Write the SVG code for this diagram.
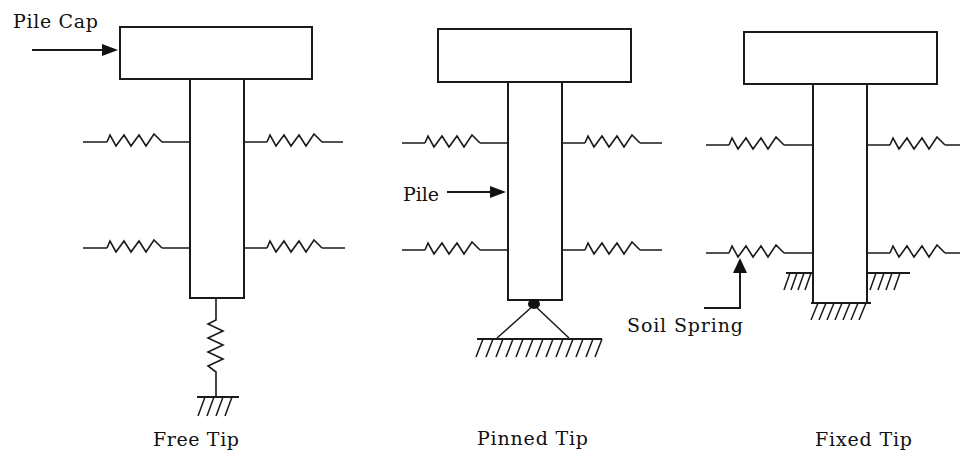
<svg xmlns="http://www.w3.org/2000/svg" xmlns:xlink="http://www.w3.org/1999/xlink" width="960" height="455" viewBox="0 0 960 455">
<style>
.s{fill:none;stroke:#1a1a1a;stroke-width:2}
.sp{fill:none;stroke:#1a1a1a;stroke-width:1.6;stroke-linejoin:miter}
.h{fill:none;stroke:#1a1a1a;stroke-width:1.5}
.box{fill:#fff;stroke:#1a1a1a;stroke-width:2}
.ah{fill:#111}
.t{font-family:"DejaVu Serif","Liberation Serif",serif;font-size:19px;fill:#111}
</style>
<defs>
<path id="zig" class="sp" d="M0,0 L3,-7 L9,4 L17,-7 L24,4 L32,-7 L39,4 L47,-8 L55,0"/>
</defs>
<rect width="960" height="455" fill="#fff"/>

<g id="free-tip">
<rect class="box" x="120" y="27" width="192" height="52"/>
<rect class="box" x="190" y="79" width="54" height="219"/>
<path class="sp" d="M83,142 H107 M162,142 H190 M83,248 H107 M162,248 H190 M244,142 H267 M322,142 H343 M244,248 H267 M322,248 H345"/>
<use xlink:href="#zig" x="107" y="142"/>
<use xlink:href="#zig" x="107" y="248"/>
<use xlink:href="#zig" x="267" y="142"/>
<use xlink:href="#zig" x="267" y="248"/>
<path class="sp" d="M216,298 V320 L208,324 L223,331 L208,338 L223,345 L208,352 L223,359 L208,366 L216,372 V397"/>
<path class="s" d="M197,397 H239"/>
<path class="h" d="M205,397 l-7,19 M214,397 l-7,19 M223,397 l-7,19 M232,397 l-7,19"/>
<text class="t" x="153" y="446" textLength="86">Free Tip</text>
</g>

<g id="pinned-tip">
<rect class="box" x="438" y="29" width="193" height="53"/>
<rect class="box" x="508" y="82" width="54" height="218"/>
<path class="sp" d="M402,143 H425 M480,143 H508 M402,250 H425 M480,250 H508 M562,143 H585 M640,143 H662 M562,250 H585 M640,250 H662"/>
<use xlink:href="#zig" x="425" y="143"/>
<use xlink:href="#zig" x="425" y="250"/>
<use xlink:href="#zig" x="585" y="143"/>
<use xlink:href="#zig" x="585" y="250"/>
<path class="h" d="M534,305 L497,338 M534,305 L569,338"/>
<ellipse cx="534" cy="304" rx="6" ry="5" fill="#111"/>
<path class="s" d="M477,339 H602"/>
<path class="h" d="M483,339 l-7,18 M493,339 l-7,18 M503,339 l-7,18 M513,339 l-7,18 M523,339 l-7,18 M533,339 l-7,18 M543,339 l-7,18 M553,339 l-7,18 M563,339 l-7,18 M573,339 l-7,18 M583,339 l-7,18 M593,339 l-7,18 M602,339 l-7,18"/>
<text class="t" x="477" y="445" textLength="111">Pinned Tip</text>
</g>

<g id="fixed-tip">
<rect class="box" x="744" y="32" width="193" height="52"/>
<rect class="box" x="813" y="84" width="54" height="219"/>
<path class="sp" d="M706,145 H729 M784,145 H813 M706,253 H729 M784,253 H813 M867,145 H890 M945,145 H960 M867,253 H890 M945,253 H960"/>
<use xlink:href="#zig" x="729" y="145"/>
<use xlink:href="#zig" x="729" y="253"/>
<use xlink:href="#zig" x="890" y="145"/>
<use xlink:href="#zig" x="890" y="253"/>
<path class="s" d="M786,273 H813 M867,273 H910 M811,303 H871"/>
<path class="h" d="M790,273 l-6,17 M797,273 l-6,17 M804,273 l-6,17 M811,273 l-6,17 M876,273 l-6,17 M884,273 l-6,17 M892,273 l-6,17 M900,273 l-6,17 M818,303 l-7,17 M826,303 l-7,17 M834,303 l-7,17 M842,303 l-7,17 M850,303 l-7,17 M858,303 l-7,17 M866,303 l-7,17"/>
<text class="t" x="815" y="446" textLength="97">Fixed Tip</text>
</g>

<g id="labels">
<text class="t" x="13" y="28" textLength="85">Pile Cap</text>
<text class="t" x="403" y="201" textLength="36">Pile</text>
<text class="t" x="627" y="332" textLength="116">Soil Spring</text>
</g>

<g id="connectors">
<path class="s" d="M32,50 H104"/>
<polygon class="ah" points="102,44 118,50 102,56"/>
<path class="s" d="M447,192 H492"/>
<polygon class="ah" points="490,186 506,192 490,198"/>
<path class="s" d="M704,308 H740 V272"/>
<polygon class="ah" points="733,273 740,258 747,273"/>
</g>
</svg>
